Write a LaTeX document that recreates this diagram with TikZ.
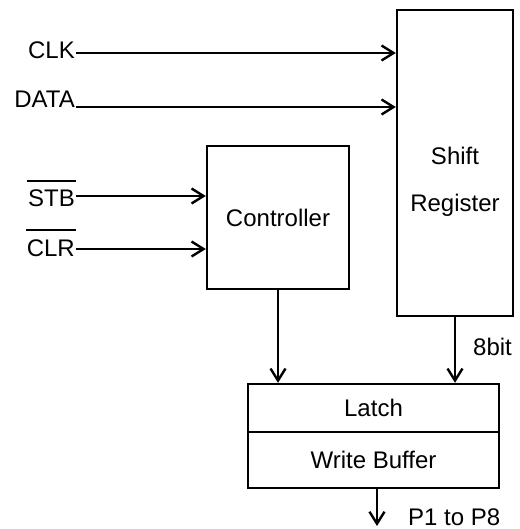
\documentclass[tikz,border=0pt]{standalone}
\usepackage{amsmath}
\usepackage{fontspec}
\setmainfont{Liberation Sans}
\usetikzlibrary{positioning,arrows.meta}

\begin{document}
\begin{tikzpicture}[x=1pt, y=-1pt, line width=2.4pt,
    font=\fontsize{24}{28}\selectfont,
    block/.style={draw, rectangle, inner sep=0pt},
    sig/.style={inner sep=0pt},
    wire/.style={-{Straight Barb[length=12pt,width=15pt]}}]
    \useasboundingbox (0,0) rectangle (519,529);

    % Blocks
    \node[block, minimum width=116pt, minimum height=306pt] (shift) at (455,163) {};
    \node[align=center] (shifttext) at (455,182) {Shift\\[19pt]Register};
    \node[block, minimum width=142pt, minimum height=143pt] (ctrl) at (278,217.5) {Controller};
    \node[block, minimum width=251pt, minimum height=48pt] (latch) at (373.5,408) {Latch};
    \node[block, minimum width=251pt, minimum height=56pt] (buffer) at (373.5,460) {Write Buffer};

    % Input signals
    \node[sig, anchor=base east] (clk) at (76,59) {CLK};
    \node[sig, anchor=base east] (data) at (76,108) {DATA};
    \node[sig, anchor=base east] (stb) at (76,207) {STB};
    \node[sig, anchor=base east] (clr) at (76,256) {CLR};
    \draw[line width=1.2pt] ([yshift=8pt]stb.north west) -- ([yshift=8pt]stb.north east);
    \draw[line width=1.2pt] ([yshift=8pt]clr.north west) -- ([yshift=8pt]clr.north east);

    \draw[wire] ([yshift=6pt]clk.base east) -- ([yshift=6pt]clk.base east -| shift.west);
    \draw[wire] ([yshift=1pt]data.base east) -- ([yshift=1pt]data.base east -| shift.west);
    \draw[wire] ([yshift=11pt]stb.base east) -- ([yshift=11pt]stb.base east -| ctrl.west);
    \draw[wire] ([yshift=7pt]clr.base east) -- ([yshift=7pt]clr.base east -| ctrl.west);

    % To the latch
    \draw[wire] (ctrl.south) -- (ctrl.south |- latch.north);
    \draw[wire] (shift.south) -- (shift.south |- latch.north);
    \node[sig, anchor=base west] (bits) at (472,355) {8bit};

    % Outputs
    \coordinate (pout) at (377,526);
    \draw[wire] (buffer.south -| pout) -- (pout);
    \node[sig, anchor=base west] (ports) at (407,525) {P1 to P8};
\end{tikzpicture}
\end{document}
